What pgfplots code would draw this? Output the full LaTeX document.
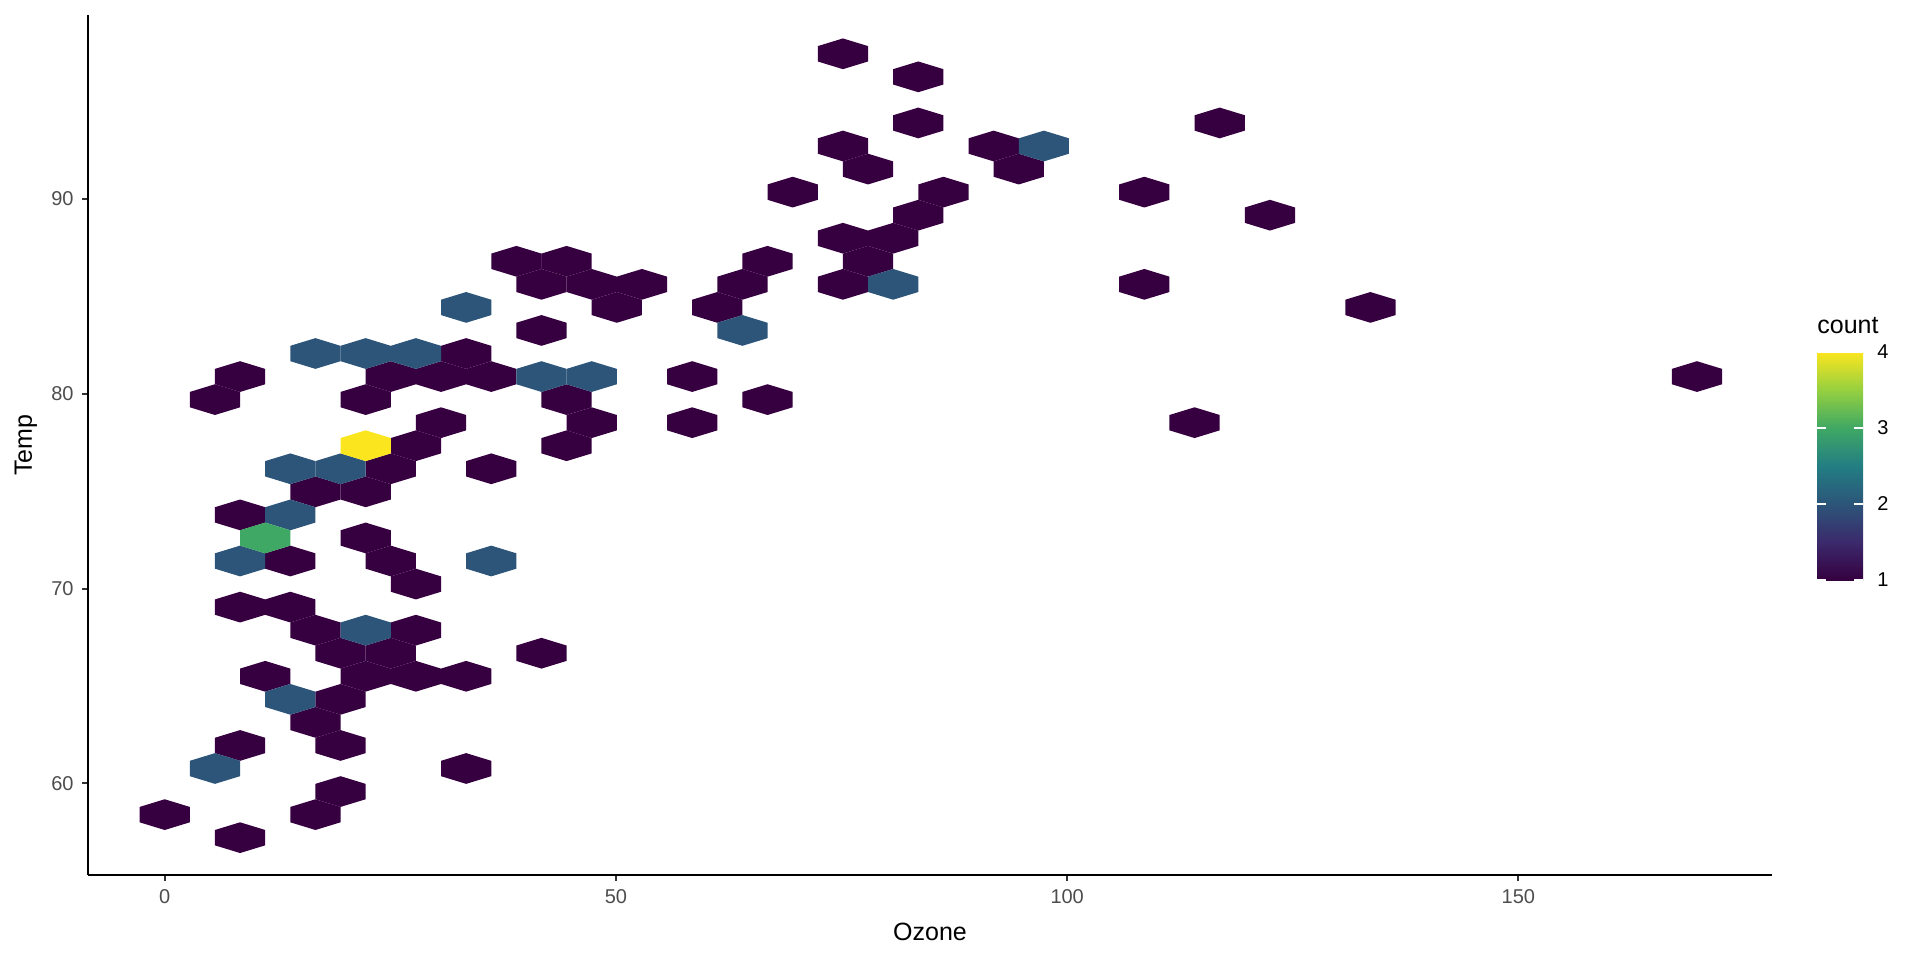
\documentclass[border=0pt]{standalone}
\usepackage{fontspec}
\setmainfont{Liberation Sans}
\usepackage{pgfplots}
\pgfplotsset{compat=1.18}
\usepackage{pgfplotstable}

\definecolor{cone}{RGB}{54,0,64}
\definecolor{ctwo}{RGB}{44,85,121}
\definecolor{cthree}{RGB}{63,168,100}
\definecolor{cfour}{RGB}{251,229,31}
\definecolor{gtwenty}{RGB}{51,51,51}
\definecolor{gthirty}{RGB}{77,77,77}

% hexagon of ggplot's geom_hex: half width 2.7833 x-units, dy 0.3945 y-units
\pgfdeclareplotmark{hex}{%
  \pgfpathmoveto{\pgfqpoint{12.56pt}{3.842pt}}%
  \pgfpathlineto{\pgfqpoint{0pt}{7.685pt}}%
  \pgfpathlineto{\pgfqpoint{-12.56pt}{3.842pt}}%
  \pgfpathlineto{\pgfqpoint{-12.56pt}{-3.842pt}}%
  \pgfpathlineto{\pgfqpoint{0pt}{-7.685pt}}%
  \pgfpathlineto{\pgfqpoint{12.56pt}{-3.842pt}}%
  \pgfpathclose
  \pgfusepathqfill}

\pgfplotstableread{
x y
8.350 57.217
0.000 58.400
16.700 58.400
19.483 59.584
33.400 60.768
8.350 61.951
19.483 61.951
16.700 63.135
19.483 64.318
11.133 65.502
22.267 65.502
27.833 65.502
33.400 65.502
19.483 66.686
25.050 66.686
41.750 66.686
16.700 67.869
27.833 67.869
8.350 69.053
13.917 69.053
27.833 70.236
13.917 71.420
25.050 71.420
22.267 72.603
8.350 73.787
16.700 74.971
22.267 74.971
25.050 76.154
36.183 76.154
27.833 77.338
44.533 77.338
30.617 78.521
47.317 78.521
58.450 78.521
114.117 78.521
5.567 79.705
22.267 79.705
44.533 79.705
66.800 79.705
8.350 80.888
25.050 80.888
30.617 80.888
36.183 80.888
58.450 80.888
169.783 80.888
33.400 82.072
41.750 83.256
50.100 84.439
61.233 84.439
133.600 84.439
41.750 85.623
47.317 85.623
52.883 85.623
64.017 85.623
75.150 85.623
108.550 85.623
38.967 86.806
44.533 86.806
66.800 86.806
77.933 86.806
75.150 87.990
80.717 87.990
83.500 89.173
122.467 89.173
69.583 90.357
86.283 90.357
108.550 90.357
77.933 91.540
94.633 91.540
75.150 92.724
91.850 92.724
83.500 93.908
116.900 93.908
83.500 96.275
75.150 97.458
}\countone

\pgfplotstableread{
x y
22.267 67.869
13.917 64.318
5.567 60.768
33.400 84.439
16.700 82.072
22.267 82.072
27.833 82.072
41.750 80.888
47.317 80.888
13.917 76.154
19.483 76.154
13.917 73.787
8.350 71.420
36.183 71.420
80.717 85.623
64.017 83.256
97.417 92.724
}\counttwo

\pgfplotstableread{
x y
11.133 72.603
}\countthree

\pgfplotstableread{
x y
22.267 77.338
}\countfour

\begin{document}
\begin{tikzpicture}
\useasboundingbox (0,0) rectangle (960pt,480pt);
\begin{axis}[
  at={(44pt,42.5pt)}, anchor=south west,
  scale only axis, width=842pt, height=430pt,
  xmin=-8.5, xmax=178.1, ymin=55.3, ymax=99.45,
  axis x line*=bottom, axis y line*=left,
  axis line style={-, line width=1pt, black},
  xtick={0,50,100,150}, ytick={60,70,80,90},
  tick align=outside, major tick length=3pt,
  tick style={color=gtwenty, line width=1pt},
  /pgf/number format/assume math mode=true,
  ticklabel style={font=\fontsize{10}{12}\selectfont, text=gthirty},
  xticklabel style={inner sep=0pt, yshift=-4pt},
  yticklabel style={inner sep=0pt, xshift=-4pt},
  xlabel={Ozone}, ylabel={Temp},
  label style={font=\fontsize{12.5}{15}\selectfont},
  xlabel style={at={(axis description cs:0.5,-0.0756)}, anchor=base},
  ylabel style={at={(axis description cs:-0.0333,0.5)}, anchor=base, rotate=0},
  clip=false,
  colorbar,
  colorbar/width=23pt,
  colormap={cnt}{rgb255(0cm)=(54,0,64) rgb255(1cm)=(59,42,108) rgb255(2cm)=(44,85,121) rgb255(3cm)=(34,126,131) rgb255(4cm)=(63,168,100) rgb255(5cm)=(150,208,64) rgb255(6cm)=(251,229,31)},
  point meta min=1, point meta max=4,
  colorbar style={
    at={(parent axis.south east)}, anchor=south west,
    xshift=13.965pt, yshift=147.5pt,
    scale only axis, width=23pt, height=114pt,
    ytick={1,2,3,4},
    ytick pos=both,
    yticklabel pos=right,
    tick align=inside,
    major tick length=4.5pt,
    tick style={draw=white, line width=0.6pt},
    axis line style={draw=none},
    /pgf/number format/assume math mode=true,
    yticklabel style={font=\fontsize{10}{12}\selectfont, text=black, inner sep=0pt, anchor=west, xshift=7pt},
  },
]
\addplot[only marks, mark=hex, color=cone, mark options={fill=cone}] table {\countone};
\addplot[only marks, mark=hex, color=ctwo, mark options={fill=ctwo}] table {\counttwo};
\addplot[only marks, mark=hex, color=cthree, mark options={fill=cthree}] table {\countthree};
\addplot[only marks, mark=hex, color=cfour, mark options={fill=cfour}] table {\countfour};
\end{axis}
\node[anchor=base west, inner sep=0pt, font=\fontsize{12.5}{15}\selectfont] at (908.5pt,313pt) {count};
\end{tikzpicture}
\end{document}
